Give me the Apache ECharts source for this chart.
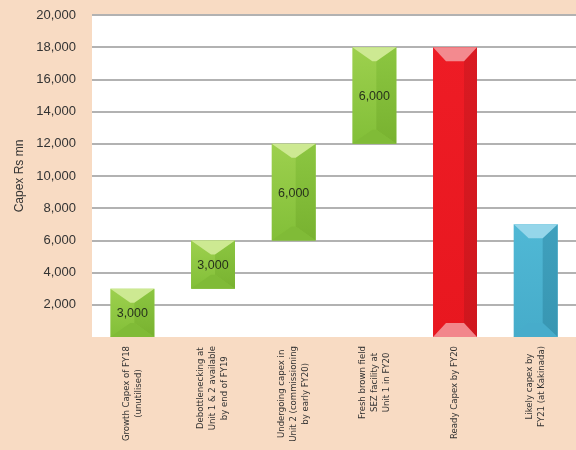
<!DOCTYPE html>
<html>
<head>
<meta charset="utf-8">
<script src="https://cdn.jsdelivr.net/npm/echarts@6/dist/echarts.min.js"></script>
<style>
  html, body { margin: 0; padding: 0; background: #f8dbc3; }
  #chart { width: 576px; height: 450px; }
</style>
</head>
<body>
<div id="chart"></div>
<script>
// categories and capex steps (Rs mn)
var categories = [
  'Growth Capex of FY18\n(unutilised)',
  'Debottlenecking at\nUnit 1 & 2 available\nby end of FY19',
  'Undergoing capex in\nUnit 2 (commissioning\nby early FY20)',
  'Fresh brown field\nSEZ facility at\nUnit 1 in FY20',
  'Ready Capex by FY20',
  'Likely capex by\nFY21 (at Kakinada)'
];
var barBase = [0, 3000, 6000, 12000, 0, 0];
var barValue = [3000, 3000, 6000, 6000, 18000, 7000];
var barKind = ['step', 'step', 'step', 'step', 'total', 'likely'];

// look of each kind of bar
var palettes = {
  step: { left: ['#9dd04e', '#82bf38'], right: ['#8cc641', '#78b230'], top: '#cde992', bottom: '#80bb37', inner: 2, label: true },
  total: { left: ['#ee1c25', '#e8171f'], right: ['#d91a22', '#cf161d'], top: '#f38a8f', bottom: '#f2868b', inner: 9, label: false },
  likely: { left: ['#50b8d5', '#46acca'], right: ['#3fa0bd', '#3896b2'], top: '#95d6ea', bottom: '#47accb', inner: 7, label: false }
};

var chart = echarts.init(document.getElementById('chart'));

function grad(c) {
  return new echarts.graphic.LinearGradient(0, 0, 0, 1, [
    { offset: 0, color: c[0] },
    { offset: 1, color: c[1] }
  ]);
}

function renderBar(params, api) {
  var i = api.value(0), base = api.value(1), val = api.value(2);
  var top = api.coord([i, base + val]);
  var bot = api.coord([i, base]);
  var bw = api.size([1, 0])[0] * 0.545;
  var xm = top[0], x0 = xm - bw / 2, x1 = xm + bw / 2;
  var yT = top[1], yB = bot[1];
  var pal = palettes[barKind[i]];
  var d = Math.min(14, (yB - yT) / 3);
  var e = pal.inner;
  var kids = [
    { type: 'rect', shape: { x: x0, y: yT, width: bw, height: yB - yT }, style: { fill: grad(pal.left) } },
    { type: 'polygon', shape: { points: [[xm + e, yT + d], [x1, yT], [x1, yB], [xm + e, yB - d]] }, style: { fill: grad(pal.right) } },
    { type: 'polygon', shape: { points: [[x0, yT], [x1, yT], [xm + e, yT + d], [xm - e, yT + d]] }, style: { fill: pal.top } },
    { type: 'polygon', shape: { points: [[x0, yB], [xm - e, yB - d], [xm + e, yB - d], [x1, yB]] }, style: { fill: pal.bottom } }
  ];
  if (pal.label) {
    kids.push({
      type: 'text',
      style: {
        text: val.toLocaleString('en-US'),
        x: xm, y: (yT + yB) / 2 + 1,
        align: 'center', verticalAlign: 'middle',
        fill: '#27311c',
        font: '12.5px "Liberation Sans", sans-serif'
      }
    });
  }
  return { type: 'group', children: kids };
}

chart.setOption({
  animation: false,
  backgroundColor: '#f8dbc3',
  grid: {
    left: 92, right: 0, top: 15, bottom: 113,
    show: true, backgroundColor: '#ffffff', borderWidth: 0
  },
  xAxis: {
    type: 'category',
    data: categories,
    axisLine: { show: false },
    axisTick: { show: false },
    axisLabel: {
      rotate: 90,
      margin: 9,
      interval: 0,
      formatter: function (v) {
        return v.split('\n').map(function (s) { return '{a|' + s + '}'; }).join('\n');
      },
      rich: {
        a: {
          align: 'center',
          fontFamily: '"Liberation Sans Narrow", "DejaVu Sans Condensed", sans-serif',
          fontSize: 9.5,
          lineHeight: 12,
          color: '#333333'
        }
      }
    }
  },
  yAxis: {
    type: 'value',
    min: 0,
    max: 20000,
    interval: 2000,
    name: 'Capex Rs mn',
    nameLocation: 'middle',
    nameGap: 65,
    nameTextStyle: { fontFamily: '"Liberation Sans", sans-serif', fontSize: 12, color: '#333333' },
    axisLine: { show: false },
    axisTick: { show: false },
    axisLabel: {
      margin: 16,
      fontFamily: '"Liberation Sans", sans-serif',
      fontSize: 13,
      color: '#333333',
      formatter: function (v) { return v === 0 ? '' : v.toLocaleString('en-US'); }
    },
    splitLine: { showMinLine: false, lineStyle: { color: '#b2b2b2', width: 2 } }
  },
  series: [{
    type: 'custom',
    renderItem: renderBar,
    encode: { x: 0, y: [1, 2] },
    data: categories.map(function (c, i) { return [i, barBase[i], barValue[i]]; })
  }]
});
</script>
</body>
</html>
